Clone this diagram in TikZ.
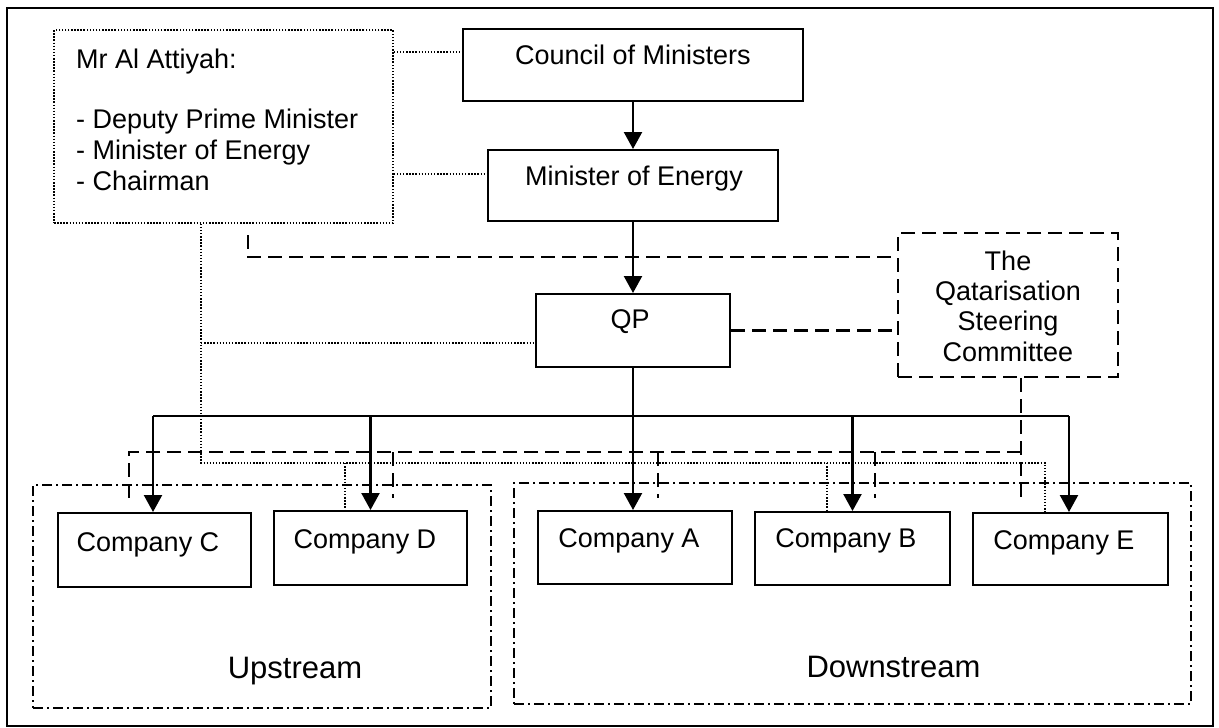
\documentclass[tikz,border=0pt]{standalone}
\usepackage{fontspec}
\setmainfont{Liberation Sans}
\usetikzlibrary{arrows.meta}
\begin{document}
\begin{tikzpicture}[x=1pt,y=-1pt,
  box/.style n args={2}{draw, line width=2pt, minimum width=#1, minimum height=#2, inner sep=0pt},
  dotbox/.style n args={2}{draw, line width=1.5pt, dash pattern=on 1.5pt off 1.6pt, minimum width=#1, minimum height=#2, inner sep=0pt},
  dashbox/.style n args={2}{draw, line width=2.1pt, dash pattern=on 14pt off 7pt, minimum width=#1, minimum height=#2, inner sep=0pt},
  dotdashbox/.style n args={2}{draw, line width=1.9pt, dash pattern=on 10pt off 4pt on 2pt off 4pt, minimum width=#1, minimum height=#2, inner sep=0pt},
  lbl/.style={font=\fontsize{27}{30}\selectfont, inner sep=0pt},
  biglbl/.style={font=\fontsize{31}{34}\selectfont, inner sep=0pt},
  dotline/.style={line width=1.4pt, dash pattern=on 1.4pt off 1.7pt},
  dashline/.style={line width=2.1pt, dash pattern=on 14pt off 7pt, line join=miter},
  solidline/.style={line width=2.3pt},
  arr/.style={line width=2.3pt, -{Triangle[width=18pt,length=17pt]}}
]
\useasboundingbox (0,0) rectangle (1219,728);
\fill[white] (0,0) rectangle (1219,728);
% outer frame
\draw[line width=2.4pt] (7,8) rectangle (1213,726);

% group boxes
\node[dotdashbox={458}{223}] (upstream) at (262,596.5) {};
\node[dotdashbox={677}{221}] (downstream) at (852.5,593.5) {};
\node[biglbl, anchor=base] (upT) at (295,678) {Upstream};
\node[biglbl, anchor=base] (downT) at (893.5,677) {Downstream};

% main boxes
\node[dotbox={339}{193}] (attiyah) at (223.5,126.5) {};
\node[box={340}{72}] (council) at (633,65) {};
\node[box={290}{71}] (minister) at (633,185.5) {};
\node[box={194}{73}] (qp) at (633,330.5) {};
\node[dashbox={220}{144}] (qsc) at (1008,305) {};

\node[box={193}{74}] (C) at (154.5,550) {};
\node[box={193}{74}] (D) at (370.5,548) {};
\node[box={194}{73}] (A) at (635,547.5) {};
\node[box={195}{73}] (B) at (852.5,548.5) {};
\node[box={195}{72}] (E) at (1070.5,549) {};

% texts
\node[lbl, anchor=base west] (at1) at (76,68) {Mr Al Attiyah:};
\node[lbl, anchor=base west] (at2) at (76,128) {- Deputy Prime Minister};
\node[lbl, anchor=base west] (at3) at (76,159) {- Minister of Energy};
\node[lbl, anchor=base west] (at4) at (76,190) {- Chairman};
\node[lbl, anchor=base] (councilT) at (633,64) {Council of Ministers};
\node[lbl, anchor=base] (ministerT) at (634,185) {Minister of Energy};
\node[lbl, anchor=base] (qpT) at (630,328) {QP};
\node[lbl, anchor=base] (q1) at (1008,270) {The};
\node[lbl, anchor=base] (q2) at (1008,300) {Qatarisation};
\node[lbl, anchor=base] (q3) at (1008,330) {Steering};
\node[lbl, anchor=base] (q4) at (1008,361) {Committee};
\node[lbl, anchor=base] (CT) at (148,551) {Company C};
\node[lbl, anchor=base] (DT) at (365,548) {Company D};
\node[lbl, anchor=base] (AT) at (629,547) {Company A};
\node[lbl, anchor=base] (BT) at (846,547) {Company B};
\node[lbl, anchor=base] (ET) at (1064,549) {Company E};

% dotted connectors
\coordinate (y52) at (0,52);
\coordinate (y174) at (0,174);
\draw[dotline] (attiyah.east |- y52) -- (council.west |- y52);
\draw[dotline] (attiyah.east |- y174) -- (minister.west |- y174);
\coordinate (dotA) at (201,463);
\coordinate (dotR) at (1045,463);
\coordinate (dotQ) at (201,343);
\coordinate (dotD) at (345,463);
\coordinate (dotB) at (827,463);
\draw[dotline] (attiyah.south -| dotA) -- (dotA) -- (dotR) -- (dotR |- E.north);
\draw[dotline] (dotQ) -- (dotQ -| qp.west);
\draw[dotline] (dotD) -- (dotD |- D.north);
\draw[dotline] (dotB) -- (dotB |- B.north);

% dashed connectors
\coordinate (dsA) at (248,235);
\coordinate (dsA2) at (248,257);
\draw[dashline] (dsA) -- (dsA2) -- (dsA2 -| qsc.west);
\draw[dashline] (qp.east) -- (qp.east -| qsc.west);
\coordinate (dsS) at (1021,377);
\coordinate (dsE) at (1021,500);
\draw[dashline] (qsc.south -| dsS) -- (dsE);
\coordinate (dsH) at (1021,452);
\coordinate (dsL) at (129,452);
\coordinate (dsLe) at (129,502);
\draw[dashline] (dsH) -- (dsL) -- (dsLe);
\coordinate (ds1) at (393,452);
\coordinate (ds2) at (658,452);
\coordinate (ds3) at (875,452);
\draw[dashline] (ds1) -- ++(0,46);
\draw[dashline] (ds2) -- ++(0,46);
\draw[dashline] (ds3) -- ++(0,46);

% solid arrows
\draw[arr] (council.south) -- (minister.north);
\draw[arr] (minister.south) -- (qp.north);
\draw[arr] (qp.south) -- (qp.south |- A.north);
\coordinate (busL) at (153,416);
\coordinate (busR) at (1069,416);
\draw[solidline] (busL) -- (busR);
\draw[arr] (busL) -- (busL |- C.north);
\draw[arr] (D.north |- busL) -- (D.north);
\draw[arr] (B.north |- busL) -- (B.north);
\draw[arr] (busR) -- (busR |- E.north);
\end{tikzpicture}
\end{document}
